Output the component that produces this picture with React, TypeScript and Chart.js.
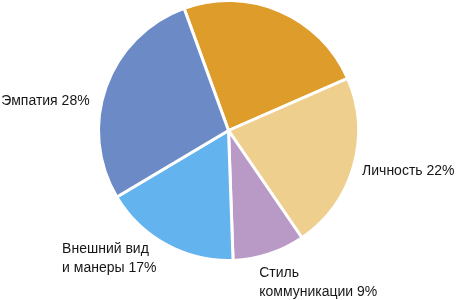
import React, { useEffect, useRef } from "react";
import { Chart, registerables } from "chart.js";

Chart.register(...registerables);

const categories: string[][] = [
  [""],
  ["Личность 22%"],
  ["Стиль", "коммуникации 9%"],
  ["Внешний вид", "и манеры 17%"],
  ["Эмпатия 28%"],
];
const values: number[] = [24, 22, 9, 17, 28];
const colors: string[] = ["#DE9C2A", "#EECF8E", "#B99AC6", "#63B3EE", "#6B8AC6"];

// label placement: block alignment relative to slice anchor, with small nudges
const labelPlacement = [
  { side: "left", dx: 0, dy: 0 },
  { side: "left", dx: -1, dy: 2 },
  { side: "left", dx: -13, dy: 19 },
  { side: "right", dx: -5, dy: 5 },
  { side: "right", dx: -7, dy: 18 },
];

const FONT = '14px "Liberation Sans Narrow", "Arial Narrow", "Liberation Sans", sans-serif';
const LINE_H = 18.5;

const labelPlugin = {
  id: "outerLabels",
  afterDraw(chart: any) {
    const ctx = chart.ctx;
    const meta = chart.getDatasetMeta(0);
    ctx.save();
    ctx.font = FONT;
    ctx.fillStyle = "#161616";
    ctx.textBaseline = "middle";
    meta.data.forEach((arc: any, i: number) => {
      const lines = categories[i];
      if (!lines || !lines[0]) return;
      const p = arc.getProps(["x", "y", "startAngle", "endAngle", "outerRadius"], true);
      const mid = (p.startAngle + p.endAngle) / 2;
      const r = p.outerRadius + 10;
      const ax = p.x + Math.cos(mid) * r;
      const ay = p.y + Math.sin(mid) * r;
      const pl = labelPlacement[i];
      const w = Math.max(...lines.map((l) => ctx.measureText(l).width));
      const left = pl.side === "left" ? ax + pl.dx : ax + pl.dx - w;
      const cy = ay + pl.dy;
      const top = cy - ((lines.length - 1) * LINE_H) / 2;
      ctx.textAlign = "left";
      lines.forEach((l, k) => ctx.fillText(l, left, top + k * LINE_H));
    });
    ctx.restore();
  },
};

export default function App() {
  const ref = useRef<HTMLCanvasElement>(null);
  useEffect(() => {
    if (!ref.current) return;
    const chart = new Chart(ref.current, {
      type: "pie",
      data: {
        labels: categories.map((c) => c.join(" ")),
        datasets: [
          {
            data: values,
            backgroundColor: colors,
            borderColor: "#ffffff",
            borderWidth: 3,
          },
        ],
      },
      options: {
        animation: false,
        responsive: false,
        rotation: -20,
        layout: { padding: { left: 97, right: 97, top: 0, bottom: 39 } },
        plugins: { legend: { display: false }, tooltip: { enabled: false } },
      },
      plugins: [labelPlugin],
    });
    return () => chart.destroy();
  }, []);
  return (
    <div style={{ position: "fixed", left: 0, top: 0, width: 457, height: 300, background: "#fff", overflow: "hidden" }}>
      <canvas
        ref={ref}
        width={457}
        height={302}
        style={{ position: "absolute", left: 0, top: -1, width: 457, height: 302 }}
      />
    </div>
  );
}
